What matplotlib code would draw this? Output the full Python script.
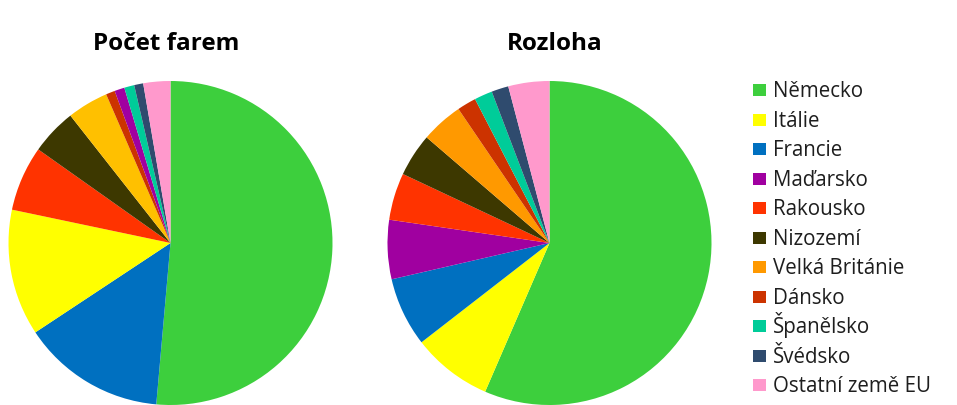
#!/usr/bin/env python

"""
Two pie charts: share of farms and of farmed area per EU country.
"""

import matplotlib
matplotlib.use('Agg')
import matplotlib.pyplot as plt
from matplotlib.patches import Rectangle

plt.rcParams['font.family'] = ['Open Sans', 'DejaVu Sans']

# legend order
countries = ['Německo', 'Itálie', 'Francie', 'Maďarsko', 'Rakousko', 'Nizozemí',
             'Velká Británie', 'Dánsko', 'Španělsko', 'Švédsko', 'Ostatní země EU']
colors = ['#3DCF3D', '#FFFF00', '#0070C0', '#A000A0', '#FF3300', '#3D3800',
          '#FF9900', '#CC3300', '#00CC99', '#2F4B6E', '#FF99CC']

# Počet farem (%), in the order drawn clockwise from the top
farms_order = ['Německo', 'Francie', 'Itálie', 'Rakousko', 'Nizozemí',
               'Velká Británie', 'Dánsko', 'Maďarsko', 'Španělsko', 'Švédsko',
               'Ostatní země EU']
farms_share = [51.4, 14.3, 12.6, 6.5, 4.6, 4.1, 0.9, 1.0, 1.0, 0.9, 2.7]

# Rozloha (%), same order as the legend
area_order = countries
area_share = [56.5, 8.0, 6.9, 5.9, 4.7, 4.3, 4.2, 1.9, 1.8, 1.7, 4.1]

colorMap = dict(zip(countries, colors))
farms_colors = [colorMap[c] for c in farms_order]
farms_colors[farms_order.index('Velká Británie')] = '#FFC000'  # lighter orange in this one
area_colors = [colorMap[c] for c in area_order]

W, H = 957, 405
fig = plt.figure(figsize=(W / 100, H / 100), dpi=100)


def pie_axes(cx, cy, r):
    # cx, cy, r in pixels, cy measured from the top
    return fig.add_axes([(cx - r) / W, (H - cy - r) / H, 2 * r / W, 2 * r / H])


ax1 = pie_axes(170.5, 243, 162)
ax1.pie(farms_share, colors=farms_colors, startangle=90, counterclock=False,
        wedgeprops={'linewidth': 0})
ax1.set_xlim(-1, 1)
ax1.set_ylim(-1, 1)
ax1.set_aspect('equal')
ax1.axis('off')

ax2 = pie_axes(549.5, 243, 162)
ax2.pie(area_share, colors=area_colors, startangle=90, counterclock=False,
        wedgeprops={'linewidth': 0})
ax2.set_xlim(-1, 1)
ax2.set_ylim(-1, 1)
ax2.set_aspect('equal')
ax2.axis('off')

# titles
fig.text(166.5 / W, (H - 50.5) / H, 'Počet farem', ha='center', va='baseline',
         fontsize=17.5, fontweight='bold')
fig.text(554.5 / W, (H - 50.5) / H, 'Rozloha', ha='center', va='baseline',
         fontsize=17.5, fontweight='bold')

# legend, drawn by hand so every row gets the same height
# (accented capitals like Š make the built-in legend rows uneven)
legAx = fig.add_axes([0, 0, 1, 1])
legAx.set_xlim(0, W)
legAx.set_ylim(H, 0)
legAx.axis('off')

rowStart = 90.0
rowStep = 29.5
for i in range(0, len(countries)):
    yc = rowStart + rowStep * i
    legAx.add_patch(Rectangle((752.5, yc - 6), 13, 12,
                              facecolor=colors[i], edgecolor='none'))
    legAx.text(773, yc + 7.3, countries[i], ha='left', va='baseline',
               fontsize=14.8, color='#1e1e1e')

fig.savefig('out.png', dpi=100)
